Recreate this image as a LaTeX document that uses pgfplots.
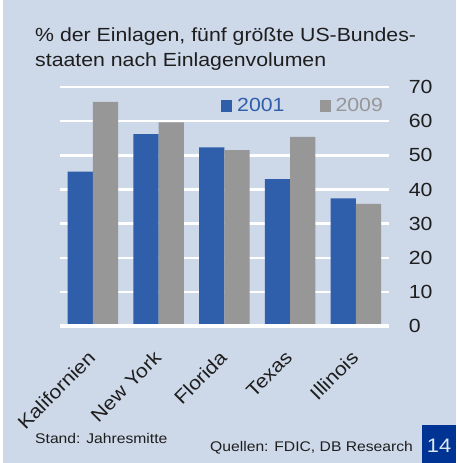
\documentclass[border=0pt]{standalone}
\usepackage{fontspec}
\setmainfont{Liberation Sans}[FakeStretch=1.12]
\usepackage{pgfplots}
\pgfplotsset{compat=1.18}
\definecolor{bgc}{RGB}{205,216,233}
\definecolor{barblue}{RGB}{47,94,170}
\definecolor{bargray}{RGB}{151,151,151}
\definecolor{boxblue}{RGB}{0,52,148}
\definecolor{txt}{RGB}{30,30,30}
\begin{document}
\begin{tikzpicture}[x=1pt,y=1pt]
\useasboundingbox (0,0) rectangle (456,463);
\fill[bgc] (0,0) rectangle (456,463);
\fill[white] (0,0) rectangle (3,463);
\node[anchor=base west, inner sep=0pt, align=left, text=txt,
      font=\fontsize{19}{25}\selectfont] at (35,396)
  {\% der Einlagen, fünf größte US-Bundes-\\staaten nach Einlagenvolumen};
\begin{axis}[
  at={(60pt,136.7pt)}, anchor=south west,
  scale only axis, width=328.7pt, height=239.4pt,
  xmin=-0.5, xmax=4.5, ymin=0, ymax=70,
  ybar=0pt, bar width=25.2pt,
  axis line style={draw=none},
  major tick length=0pt,
  ytick={0,10,...,70},
  ymajorgrids, grid style={white, line width=2.5pt},
  yticklabel pos=right,
  /pgf/number format/assume math mode=true,
  yticklabel style={anchor=west, inner sep=0pt, xshift=20pt, text=txt,
    font=\fontsize{19}{22}\selectfont},
  xtick=data,
  xticklabels={Kalifornien,New York,Florida,Texas,Illinois},
  xticklabel style={xshift=-6pt, yshift=-23pt, rotate=45, anchor=north east, inner sep=0pt,
    text=txt, font=\fontsize{19}{22}\selectfont},
  legend style={at={(0.4898,0.9223)}, anchor=west, draw=none, fill=none,
    inner sep=0pt, font=\fontsize{19}{22}\selectfont,
    nodes={inner sep=0pt},
    /tikz/every odd column/.append style={column sep=5pt},
    /tikz/every even column/.append style={column sep=35pt}},
  legend columns=2,
  legend image code/.code={\fill[#1] (0pt,-6pt) rectangle (11pt,6pt);},
]
\addplot[fill=barblue, draw=none] coordinates {(0,45.2) (1,56.2) (2,52.3) (3,43.0) (4,37.4)};
\addplot[fill=bargray, draw=none] coordinates {(0,65.6) (1,59.6) (2,51.5) (3,55.4) (4,35.8)};
\legend{\textcolor{barblue}{2001},\textcolor{bargray}{2009}}
\draw[white, line width=5pt] (rel axis cs:0,0) -- (rel axis cs:1,0);
\end{axis}
\node[anchor=base west, inner sep=0pt, text=txt, font=\fontsize{14}{16}\selectfont]
  at (35,19.7) {Stand: Jahresmitte};
\node[anchor=base west, inner sep=0pt, text=txt, font=\fontsize{14}{16}\selectfont]
  at (210,11.3) {Quellen: FDIC, DB Research};
\fill[boxblue] (421.7,0) rectangle (456,38);
\node[inner sep=0pt, text={rgb,255:red,225;green,232;blue,242}, font=\fontsize{19.5}{22}\selectfont]
  at (439,17.7) {14};
\end{tikzpicture}
\end{document}
